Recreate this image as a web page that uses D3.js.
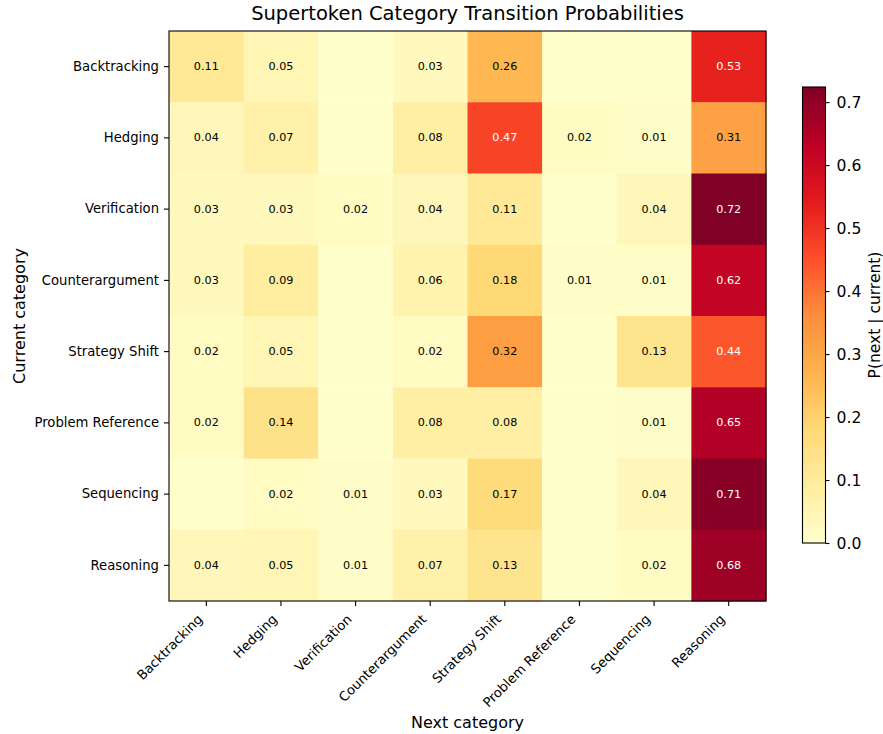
<!DOCTYPE html>
<html>
<head>
<meta charset="utf-8">
<script src="https://cdn.jsdelivr.net/npm/d3@7"></script>
<style>
  html, body { margin: 0; padding: 0; background: #ffffff; }
  text { font-family: "DejaVu Sans", sans-serif; fill: #000; }
</style>
</head>
<body>
<svg id="chart" width="883" height="734"></svg>
<script>
// Category order (rows = current, columns = next)
const categories = ["Backtracking", "Hedging", "Verification", "Counterargument",
                    "Strategy Shift", "Problem Reference", "Sequencing", "Reasoning"];

// Transition probabilities P(next | current), one array per current category
const backtracking     = [0.11, 0.05, 0.00, 0.03, 0.26, 0.00, 0.00, 0.53];
const hedging          = [0.04, 0.07, 0.00, 0.08, 0.47, 0.02, 0.01, 0.31];
const verification     = [0.03, 0.03, 0.02, 0.04, 0.11, 0.00, 0.04, 0.724];
const counterargument  = [0.03, 0.09, 0.00, 0.06, 0.18, 0.01, 0.01, 0.62];
const strategyShift    = [0.02, 0.05, 0.00, 0.02, 0.32, 0.00, 0.13, 0.44];
const problemReference = [0.02, 0.14, 0.00, 0.08, 0.08, 0.00, 0.01, 0.65];
const sequencing       = [0.00, 0.02, 0.01, 0.03, 0.17, 0.00, 0.04, 0.71];
const reasoning        = [0.04, 0.05, 0.01, 0.07, 0.13, 0.00, 0.02, 0.68];

const matrix = [backtracking, hedging, verification, counterargument,
                strategyShift, problemReference, sequencing, reasoning];

// Colour bar ticks
const colorbarTicks = [0.0, 0.1, 0.2, 0.3, 0.4, 0.5, 0.6, 0.7];

// YlOrRd (ColorBrewer 9-class), linear between anchors
const ylOrRd = ["#ffffcc", "#ffeda0", "#fed976", "#feb24c", "#fd8d3c",
                "#fc4e2a", "#e31a1c", "#bd0026", "#800026"];

const svg = d3.select("#chart");

const plot = { left: 169, right: 766, top: 31, bottom: 601 };

const vmax = d3.max(matrix, r => d3.max(r));
const color = d3.scaleLinear()
  .domain(ylOrRd.map((_, i) => vmax * i / (ylOrRd.length - 1)))
  .range(ylOrRd)
  .interpolate(d3.interpolateRgb)
  .clamp(true);

const x = d3.scaleBand().domain(categories).range([plot.left, plot.right]).padding(0);
const y = d3.scaleBand().domain(categories).range([plot.top, plot.bottom]).padding(0);

// Flatten into cells
const cells = [];
matrix.forEach((row, i) => row.forEach((v, j) => {
  cells.push({ from: categories[i], to: categories[j], value: v });
}));

// Heatmap cells
svg.append("g").selectAll("rect")
  .data(cells)
  .join("rect")
  .attr("x", d => x(d.to))
  .attr("y", d => y(d.from))
  .attr("width", x.bandwidth() + 0.5)
  .attr("height", y.bandwidth() + 0.5)
  .attr("fill", d => color(d.value));

// Value annotations (skip empty transitions)
svg.append("g").selectAll("text")
  .data(cells.filter(d => d.value >= 0.005))
  .join("text")
  .attr("x", d => x(d.to) + x.bandwidth() / 2)
  .attr("y", d => y(d.from) + y.bandwidth() / 2)
  .attr("text-anchor", "middle")
  .attr("dominant-baseline", "central")
  .style("font-size", "11.2px")
  .style("fill", d => d.value > 0.4 ? "#ffffff" : "#000000")
  .text(d => d3.format(".2f")(d.value));

// Frame
svg.append("rect")
  .attr("x", plot.left).attr("y", plot.top)
  .attr("width", plot.right - plot.left).attr("height", plot.bottom - plot.top)
  .attr("fill", "none").attr("stroke", "#000").attr("stroke-width", 1.1);

// Y axis
const yAxis = svg.append("g")
  .attr("transform", `translate(${plot.left},0)`)
  .call(d3.axisLeft(y).tickSize(5).tickPadding(5));
yAxis.select(".domain").remove();
yAxis.selectAll(".tick line").attr("stroke", "#000").attr("stroke-width", 1.1);
yAxis.selectAll(".tick text")
  .style("font-size", "13.2px")
  .style("font-family", "DejaVu Sans")
  .attr("fill", "#000");

// X axis with rotated labels
const xAxis = svg.append("g")
  .attr("transform", `translate(0,${plot.bottom})`)
  .call(d3.axisBottom(x).tickSize(5).tickPadding(5));
xAxis.select(".domain").remove();
xAxis.selectAll(".tick line").attr("stroke", "#000").attr("stroke-width", 1.1);
xAxis.selectAll(".tick text")
  .style("font-size", "13.2px")
  .style("font-family", "DejaVu Sans")
  .attr("fill", "#000")
  .attr("text-anchor", "end")
  .attr("dy", null)
  .attr("y", null)
  .attr("transform", "translate(-3,19) rotate(-45)");

// Title and axis titles
svg.append("text")
  .attr("x", (plot.left + plot.right) / 2)
  .attr("y", 20)
  .attr("text-anchor", "middle")
  .style("font-size", "19.5px")
  .text("Supertoken Category Transition Probabilities");

svg.append("text")
  .attr("x", (plot.left + plot.right) / 2)
  .attr("y", 728)
  .attr("text-anchor", "middle")
  .style("font-size", "16px")
  .text("Next category");

svg.append("text")
  .attr("transform", `translate(25,${(plot.top + plot.bottom) / 2}) rotate(-90)`)
  .attr("text-anchor", "middle")
  .style("font-size", "16px")
  .text("Current category");

// Colour bar
const cb = { left: 802.5, width: 23, top: 87, bottom: 543 };
const cbScale = d3.scaleLinear().domain([0, vmax]).range([cb.bottom, cb.top]);

const defs = svg.append("defs");
const grad = defs.append("linearGradient")
  .attr("id", "cbgrad")
  .attr("x1", 0).attr("y1", 1).attr("x2", 0).attr("y2", 0);
ylOrRd.forEach((c, i) => {
  grad.append("stop")
    .attr("offset", i / (ylOrRd.length - 1))
    .attr("stop-color", c);
});

svg.append("rect")
  .attr("x", cb.left).attr("y", cb.top)
  .attr("width", cb.width).attr("height", cb.bottom - cb.top)
  .attr("fill", "url(#cbgrad)")
  .attr("stroke", "#000").attr("stroke-width", 1.1);

const cbAxis = svg.append("g")
  .attr("transform", `translate(${cb.left + cb.width},0)`)
  .call(d3.axisRight(cbScale).tickValues(colorbarTicks).tickFormat(d3.format(".1f"))
        .tickSize(4).tickPadding(7));
cbAxis.select(".domain").remove();
cbAxis.selectAll(".tick line").attr("stroke", "#000").attr("stroke-width", 1.1);
cbAxis.selectAll(".tick text")
  .style("font-size", "15.6px")
  .style("font-family", "DejaVu Sans")
  .attr("fill", "#000");

svg.append("text")
  .attr("transform", `translate(880,${(cb.top + cb.bottom) / 2}) rotate(-90)`)
  .attr("text-anchor", "middle")
  .style("font-size", "15.5px")
  .text("P(next | current)");
</script>
</body>
</html>
